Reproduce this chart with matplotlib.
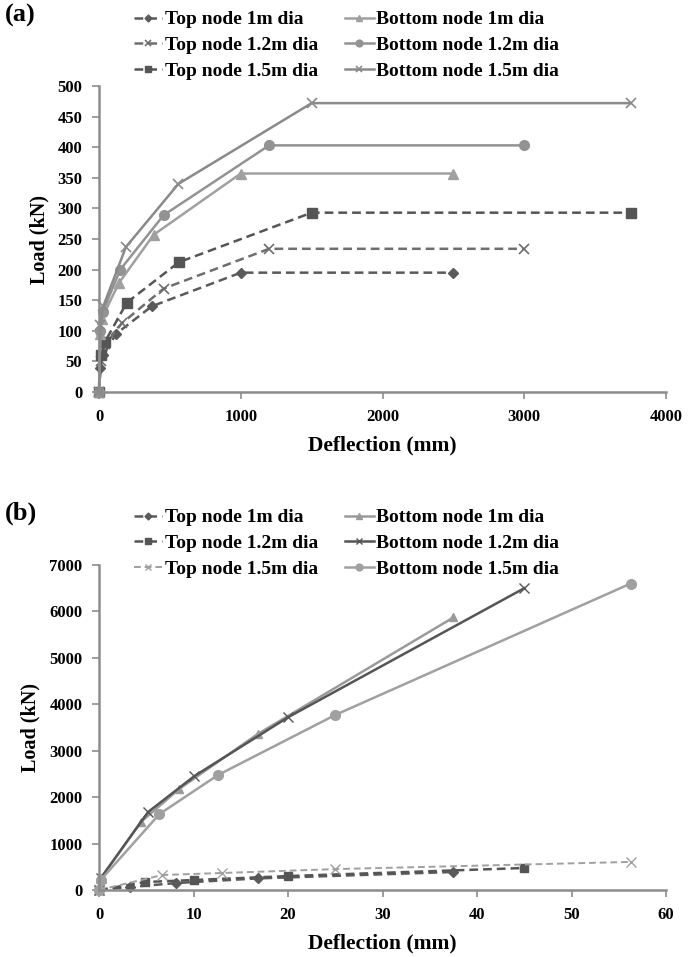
import matplotlib
matplotlib.use("Agg")
import matplotlib.pyplot as plt

plt.rcParams['font.family'] = ['Liberation Serif', 'DejaVu Serif']
plt.rcParams['font.weight'] = 'bold'

# ---------------- Panel (a) data ----------------
a_top1_x = [0, 10, 30, 120, 372, 1000, 2500]
a_top1_y = [0, 40, 60, 95, 140, 195, 195]
a_top12_x = [0, 12, 45, 160, 456, 1200, 3000]
a_top12_y = [0, 50, 78, 112, 169, 234, 234]
a_top15_x = [0, 15, 42, 196, 563, 1500, 3750]
a_top15_y = [0, 60, 82, 146, 212, 293, 293]
a_bot1_x = [0, 8, 20, 140, 386, 1000, 2500]
a_bot1_y = [0, 95, 120, 178, 257, 357, 357]
a_bot12_x = [0, 10, 25, 150, 456, 1200, 3000]
a_bot12_y = [0, 100, 130, 200, 289, 403, 403]
a_bot15_x = [0, 10, 30, 190, 560, 1500, 3750]
a_bot15_y = [0, 110, 140, 237, 340, 472, 472]

# ---------------- Panel (b) data ----------------
b_top1_x = [0, 3.3, 8.2, 16.8, 37.5]
b_top1_y = [0, 65, 150, 250, 388]
b_top12_x = [0, 4.9, 10.0, 20.0, 45.0]
b_top12_y = [0, 172, 215, 300, 474]
b_top15_x = [0, 6.7, 13.0, 25.0, 56.25]
b_top15_y = [0, 323, 366, 450, 605]
b_bot1_x = [0, 0.2, 4.4, 8.5, 16.8, 37.5]
b_bot1_y = [0, 250, 1460, 2180, 3360, 5870]
b_bot12_x = [0, 0.2, 5.2, 10.1, 20.0, 45.0]
b_bot12_y = [0, 260, 1680, 2455, 3720, 6500]
b_bot15_x = [0, 0.2, 6.4, 12.6, 25.0, 56.25]
b_bot15_y = [0, 220, 1637, 2477, 3770, 6600]

labels = ["Top node 1m dia", "Top node 1.2m dia", "Top node 1.5m dia",
          "Bottom node 1m dia", "Bottom node 1.2m dia", "Bottom node 1.5m dia"]

a_xticks = [0, 1000, 2000, 3000, 4000]
a_yticks = [0, 50, 100, 150, 200, 250, 300, 350, 400, 450, 500]
b_xticks = [0, 10, 20, 30, 40, 50, 60]
b_yticks = [0, 1000, 2000, 3000, 4000, 5000, 6000, 7000]

W, H = 688, 957
fig = plt.figure(figsize=(W / 100, H / 100), dpi=100)

def ax_rect(l, t, r, b):
    return [l / W, 1 - b / H, (r - l) / W, (b - t) / H]

axA = fig.add_axes(ax_rect(99, 86, 666, 392))
axB = fig.add_axes(ax_rect(99, 565, 666, 890))

dash = (0, (3.5, 2))
lw = 1.8

# Panel a styles
sa = [
    dict(color="#5a5a5a", ls=dash, marker="D", ms=5),
    dict(color="#6e6e6e", ls=dash, marker="x", ms=7, mew=1.2),
    dict(color="#555555", ls=dash, marker="s", ms=7),
    dict(color="#a0a0a0", ls="-", marker="^", ms=7),
    dict(color="#939393", ls="-", marker="o", ms=7),
    dict(color="#8a8a8a", ls="-", marker="x", ms=7, mew=1.2),
]
data_a = [(a_top1_x, a_top1_y), (a_top12_x, a_top12_y), (a_top15_x, a_top15_y),
          (a_bot1_x, a_bot1_y), (a_bot12_x, a_bot12_y), (a_bot15_x, a_bot15_y)]
ha = []
for (x, y), st, lab in zip(data_a, sa, labels):
    h, = axA.plot(x, y, lw=lw, label=lab, **st)
    ha.append(h)

# Panel b styles
sb = [
    dict(color="#5a5a5a", ls=dash, marker="D", ms=5),
    dict(color="#555555", ls=dash, marker="s", ms=6),
    dict(color="#a0a0a0", ls=(0, (3.5, 2)), marker="x", ms=7, mew=1.0, lw=1.4),
    dict(color="#9a9a9a", ls="-", marker="^", ms=6),
    dict(color="#555555", ls="-", marker="x", ms=7, mew=1.0),
    dict(color="#a0a0a0", ls="-", marker="o", ms=7),
]
data_b = [(b_top1_x, b_top1_y), (b_top12_x, b_top12_y), (b_top15_x, b_top15_y),
          (b_bot1_x, b_bot1_y), (b_bot12_x, b_bot12_y), (b_bot15_x, b_bot15_y)]
hb = []
for (x, y), st, lab in zip(data_b, sb, labels):
    st = dict(st)
    lwx = st.pop("lw", lw)
    h, = axB.plot(x, y, lw=lwx, label=lab, **st)
    hb.append(h)

for ax, xt, yt in [(axA, a_xticks, a_yticks), (axB, b_xticks, b_yticks)]:
    ax.set_xlim(xt[0], xt[-1])
    ax.set_ylim(yt[0], yt[-1])
    ax.set_xticks(xt)
    ax.set_yticks(yt)
    for s in ["top", "right"]:
        ax.spines[s].set_visible(False)
    for s in ["left", "bottom"]:
        ax.spines[s].set_color("#8c8c8c")
        ax.spines[s].set_linewidth(1.8)
    ax.tick_params(direction="out", length=5, width=1.2, color="#8c8c8c",
                   labelsize=12, pad=7)
    for t in ax.get_xticklabels() + ax.get_yticklabels():
        t.set_fontweight("bold")
    ax.set_xlabel("Deflection (mm)", fontsize=15.5, fontweight="bold", labelpad=8)
    ax.set_ylabel("Load (kN)", fontsize=14.5, fontweight="bold", labelpad=6)
    for ln in ax.lines:
        ln.set_clip_on(False)

legkw = dict(ncol=2, frameon=False, handlelength=1.45,
             handletextpad=0.15, columnspacing=1.4, labelspacing=0.42,
             prop=dict(family=['Liberation Serif'], weight='bold', size=14),
             borderaxespad=0, markerscale=0.7)
legA = fig.legend(handles=ha, loc="upper left", bbox_to_anchor=(126 / W, 1 - 3 / H), **legkw)
legB = fig.legend(handles=hb, loc="upper left", bbox_to_anchor=(126 / W, 1 - 501 / H), **legkw)

fig.text(5 / W, 1 - 15 / H, "(a)", fontsize=19, fontweight="bold", va="center", ha="left")
fig.text(5 / W, 1 - 513 / H, "(b)", fontsize=19, fontweight="bold", va="center", ha="left")

fig.savefig("out.png", dpi=100)
